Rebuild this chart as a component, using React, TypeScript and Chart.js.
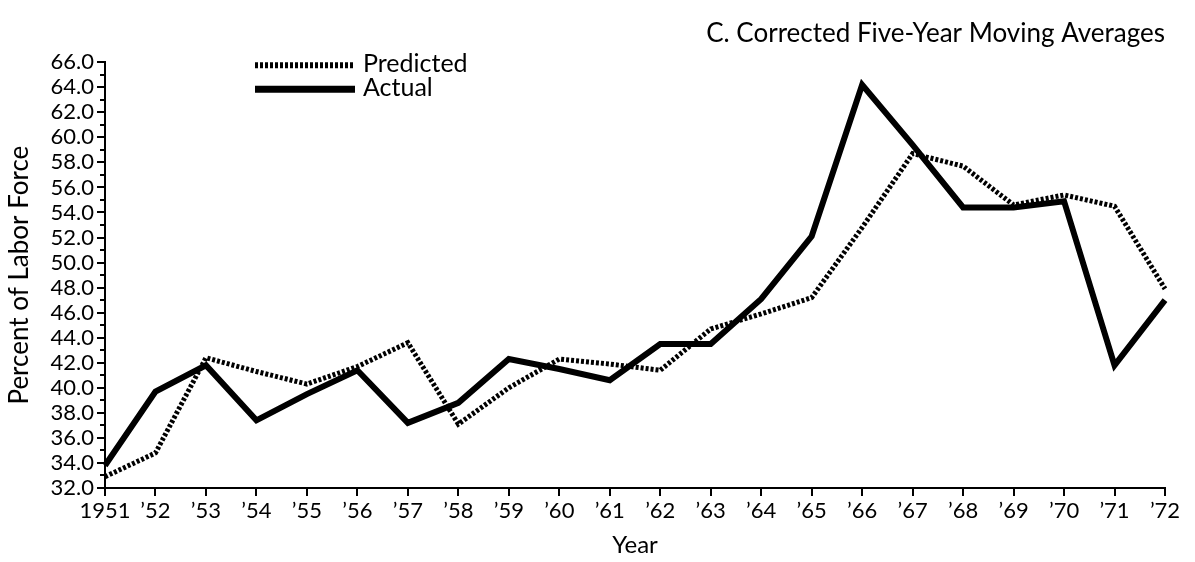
import React, { useEffect, useRef } from "react";
import { Chart, registerables } from "chart.js";

Chart.register(...registerables);

const years = ["1951", "’52", "’53", "’54", "’55", "’56", "’57", "’58", "’59", "’60", "’61", "’62", "’63", "’64", "’65", "’66", "’67", "’68", "’69", "’70", "’71", "’72"];
const predicted = [32.9, 34.8, 42.4, 41.3, 40.3, 41.7, 43.6, 37.1, 40.0, 42.3, 41.9, 41.4, 44.7, 45.9, 47.2, 52.8, 58.7, 57.7, 54.6, 55.4, 54.5, 47.9];
const actual = [33.8, 39.7, 41.8, 37.4, 39.5, 41.4, 37.2, 38.8, 42.3, 41.5, 40.6, 43.5, 43.5, 47.1, 52.1, 64.2, 59.4, 54.4, 54.4, 54.9, 41.8, 47.0];
const seriesNames = ["Predicted", "Actual"];
const titleText = "C. Corrected Five-Year Moving Averages";
const yTitle = "Percent of Labor Force";
const xTitle = "Year";
const yMin = 32;
const yMax = 66;

const FONT = "Lato, 'Open Sans', sans-serif";

const minorTicks = {
  id: "minorTicks",
  afterDraw(chart: any) {
    const y = chart.scales.y;
    const ctx = chart.ctx;
    const left = chart.chartArea.left;
    ctx.save();
    ctx.strokeStyle = "#000";
    ctx.lineWidth = 2;
    for (let v = yMin + 1; v < yMax; v += 2) {
      const py = Math.round(y.getPixelForValue(v));
      ctx.beginPath();
      ctx.moveTo(left - 5, py);
      ctx.lineTo(left, py);
      ctx.stroke();
    }
    ctx.restore();
  },
};

const customLegend = {
  id: "customLegend",
  afterDraw(chart: any) {
    const ctx = chart.ctx;
    const x0 = chart.chartArea.left + 150;
    const y0 = chart.chartArea.top + 3;
    const rowH = 24;
    ctx.save();
    chart.data.datasets.forEach((ds: any, i: number) => {
      const yy = y0 + i * rowH;
      ctx.beginPath();
      ctx.setLineDash(ds.borderDash || []);
      ctx.lineWidth = ds.borderWidth + 1;
      ctx.strokeStyle = ds.borderColor;
      ctx.moveTo(x0, yy);
      ctx.lineTo(x0 + 100, yy);
      ctx.stroke();
      ctx.setLineDash([]);
      ctx.fillStyle = "#000";
      ctx.font = `25px ${FONT}`;
      ctx.textBaseline = "middle";
      ctx.textAlign = "left";
      ctx.fillText(ds.label, x0 + 108, yy - 1);
    });
    ctx.restore();
  },
};

export default function App() {
  const ref = useRef<HTMLCanvasElement>(null);
  useEffect(() => {
    if (!ref.current) return;
    const chart = new Chart(ref.current, {
      type: "line",
      data: {
        labels: years,
        datasets: [
          {
            label: seriesNames[0],
            data: predicted,
            borderColor: "#000",
            borderWidth: 5,
            borderDash: [3, 2],
            pointRadius: 0,
            tension: 0,
            fill: false,
            borderJoinStyle: "miter",
          },
          {
            label: seriesNames[1],
            data: actual,
            borderColor: "#000",
            borderWidth: 6,
            pointRadius: 0,
            tension: 0,
            fill: false,
            borderJoinStyle: "miter",
          },
        ],
      },
      options: {
        animation: false,
        responsive: false,
        layout: { padding: { top: 0, left: 0, right: 30, bottom: 0 } },
        plugins: {
          legend: { display: false },
          tooltip: { enabled: false },
          title: {
            display: true,
            text: titleText,
            align: "end",
            color: "#000",
            font: { family: FONT, size: 26, weight: "normal" },
            padding: { top: 18, bottom: 13 },
          },
        },
        scales: {
          x: {
            type: "category",
            offset: false,
            grid: { drawOnChartArea: false, drawTicks: true, tickLength: 8, color: "#000", lineWidth: 2 },
            border: { display: true, color: "#000", width: 2 },
            ticks: { color: "#000", font: { family: FONT, size: 22 }, padding: 2, maxRotation: 0, autoSkip: false },
            title: { display: true, text: xTitle, color: "#000", font: { family: FONT, size: 24 }, padding: { top: 2, bottom: 2 } },
            afterFit(scale: any) { scale.height = 74; },
          },
          y: {
            min: yMin,
            max: yMax,
            grid: { drawOnChartArea: false, drawTicks: true, tickLength: 8, color: "#000", lineWidth: 2 },
            border: { display: true, color: "#000", width: 2 },
            ticks: {
              stepSize: 2,
              autoSkip: false,
              color: "#000",
              font: { family: FONT, size: 22 },
              padding: 3,
              callback: (v: any) => Number(v).toFixed(1),
            },
            title: { display: true, text: yTitle, color: "#000", font: { family: FONT, size: 26 }, padding: { top: 4, bottom: 4 } },
            afterFit(scale: any) { scale.width = 105; },
          },
        },
      },
      plugins: [minorTicks, customLegend],
    });
    return () => chart.destroy();
  }, []);
  return (
    <div style={{ position: "absolute", left: 0, top: 0, width: 1195, height: 562, background: "#fff" }}>
      <canvas ref={ref} width={1195} height={562} />
    </div>
  );
}
